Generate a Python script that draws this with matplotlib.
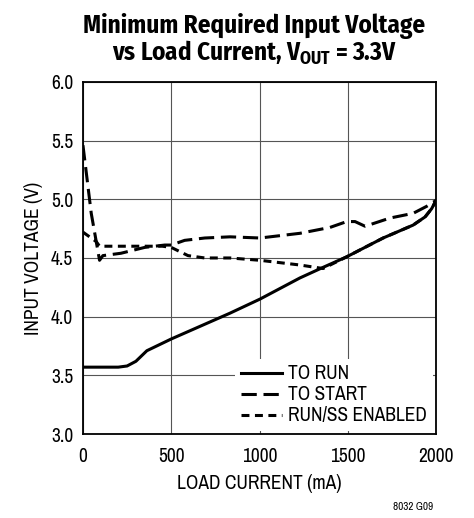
import numpy as np
import matplotlib.pyplot as plt
from matplotlib.lines import Line2D

plt.rcParams['font.family'] = ['Archivo Narrow', 'DejaVu Sans']
plt.rcParams['mathtext.fontset'] = 'custom'
plt.rcParams['mathtext.rm'] = 'Fira Sans Condensed:bold'
plt.rcParams['mathtext.bf'] = 'Fira Sans Condensed:bold'

# load current (mA) / input voltage (V)
run_i = [0, 100, 200, 250, 300, 362, 500, 833, 1003, 1229, 1360, 1494, 1700,
         1870, 1938, 1975, 2000]
run_v = [3.57, 3.57, 3.57, 3.58, 3.62, 3.71, 3.81, 4.03, 4.15, 4.33, 4.42,
         4.51, 4.67, 4.78, 4.85, 4.92, 4.99]

start_i = [0, 47, 94, 113, 215, 350, 463, 500, 576, 690, 833, 1003, 1229,
           1399, 1494, 1541, 1598, 1739, 1870, 1947, 2000]
start_v = [5.46, 4.88, 4.48, 4.52, 4.54, 4.59, 4.61, 4.61, 4.65, 4.67, 4.68,
           4.67, 4.71, 4.76, 4.81, 4.81, 4.77, 4.84, 4.88, 4.94, 4.99]

ss_i = [0, 75, 94, 250, 450, 500, 595, 690, 833, 1003, 1229, 1360, 1494,
        1700, 1870, 1938, 1975, 2000]
ss_v = [4.72, 4.64, 4.60, 4.60, 4.60, 4.59, 4.52, 4.50, 4.50, 4.48, 4.44,
        4.41, 4.51, 4.67, 4.78, 4.85, 4.92, 4.99]

x_ticks = [0, 500, 1000, 1500, 2000]
y_ticks = [3.0, 3.5, 4.0, 4.5, 5.0, 5.5, 6.0]

fig = plt.figure(figsize=(4.74, 5.18), dpi=100)
ax = fig.add_axes([0.175, 0.162, 0.745, 0.680])

ax.plot(run_i, run_v, color='black', lw=2.2, solid_capstyle='round')
ax.plot(start_i, start_v, color='black', lw=2.2, dashes=(5, 2.2))
ax.plot(ss_i, ss_v, color='black', lw=2.2, dashes=(2.6, 1.8))

ax.set_xlim(0, 2000)
ax.set_ylim(3.0, 6.0)
ax.set_xticks(x_ticks)
ax.set_yticks(y_ticks)
ax.set_yticklabels(['%.1f' % v for v in y_ticks])
ax.tick_params(length=0, labelsize=14, pad=7)
ax.tick_params(axis='x', pad=9)
ax.grid(True, color='#555555', lw=0.8)
ax.set_axisbelow(True)
for s in ax.spines.values():
    s.set_linewidth(1.3)

ax.set_xlabel('LOAD CURRENT (mA)', fontsize=14, labelpad=6)
ax.set_ylabel('INPUT VOLTAGE (V)', fontsize=14, labelpad=6)

handles = [Line2D([], [], color='black', lw=2.2),
           Line2D([], [], color='black', lw=2.2, dashes=(5, 2.2)),
           Line2D([], [], color='black', lw=2.2, dashes=(2.6, 1.8))]
leg = ax.legend(handles, ['TO RUN', 'TO START', 'RUN/SS ENABLED'],
                loc='lower right', fontsize=14, frameon=True, framealpha=1,
                edgecolor='none', facecolor='white', handlelength=2.1,
                handletextpad=0.35, labelspacing=0.1, borderpad=0.3,
                borderaxespad=0.15, fancybox=False)

fig.text(0.536, 0.975,
         'Minimum Required Input Voltage\nvs Load Current, V$_{\\mathrm{OUT}}$ = 3.3V',
         ha='center', va='top', fontsize=18, fontweight='bold',
         family=['Fira Sans Condensed', 'DejaVu Sans'], linespacing=1.0)
fig.text(0.913, 0.012, '8032 G09', ha='right', va='bottom', fontsize=8)

fig.savefig('out.png', dpi=100)
